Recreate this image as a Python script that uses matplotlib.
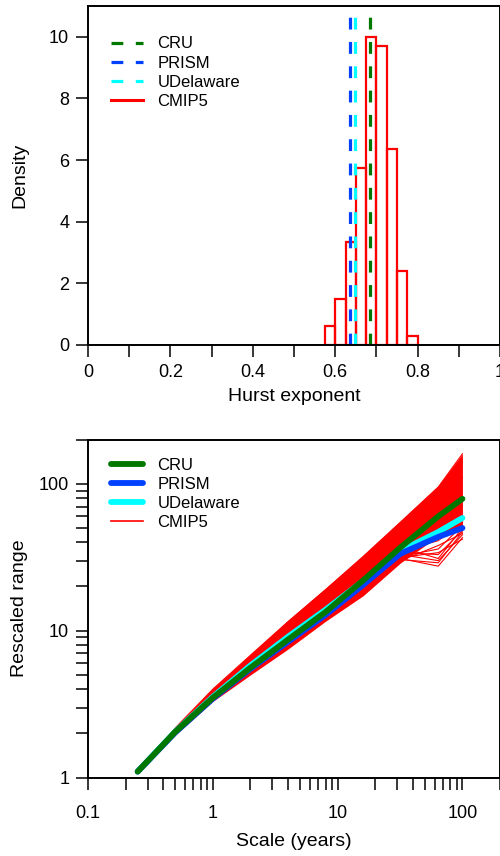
"""Hurst exponent histogram and rescaled range plot"""

import matplotlib
matplotlib.use("Agg")
import matplotlib.pyplot as plt
from matplotlib.ticker import FixedLocator, NullFormatter

plt.rcParams['font.family'] = ['Liberation Sans', 'DejaVu Sans']
plt.rcParams['lines.scale_dashes'] = False

# --- top panel data: histogram of CMIP5 Hurst exponents + observations
bin_edges = [0.575, 0.600, 0.625, 0.650, 0.675, 0.700, 0.725, 0.750, 0.775]
bin_width = 0.025
cmip5_density = [0.6, 1.5, 3.35, 5.75, 10.0, 9.7, 6.35, 2.4, 0.3]
obs_names = ['CRU', 'PRISM', 'UDelaware']
obs_hurst = [0.684, 0.636, 0.649]

# --- bottom panel data: rescaled range vs scale
scale = [0.25, 0.5, 1, 2, 4, 8, 16, 32, 64, 100]
rs_cru = [1.1, 2.05, 3.5, 5.6, 8.7, 13.4, 22.0, 37.0, 60.0, 79.0]
rs_prism = [1.1, 2.03, 3.45, 5.5, 8.4, 12.8, 20.5, 33.5, 43.5, 50.0]
rs_udel = [1.1, 2.06, 3.55, 5.8, 9.1, 13.9, 21.8, 35.0, 47.0, 58.5]

cmip5_upper = [1.13, 2.22, 4.05, 6.9, 11.8, 19.5, 32.5, 56.0, 97.0, 160.0]
cmip5_lower = [1.07, 1.95, 3.3, 5.0, 7.5, 11.6, 17.3, 29.0, 44.0, 50.0]
cmip5_runs = [
    [1.10, 2.10, 3.70, 6.0, 9.6, 15.5, 25.0, 42.0, 70.0, 110.0],
    [1.09, 2.05, 3.50, 5.5, 8.6, 13.5, 21.0, 33.0, 30.0, 45.0],
    [1.08, 2.00, 3.40, 5.2, 8.0, 12.5, 19.0, 31.0, 27.5, 43.0],
    [1.10, 2.08, 3.60, 5.7, 8.9, 14.0, 22.0, 34.0, 33.0, 48.0],
    [1.09, 2.03, 3.50, 5.4, 8.3, 13.0, 20.0, 32.0, 36.0, 52.0],
    [1.11, 2.12, 3.80, 6.3, 10.5, 17.5, 29.0, 49.0, 85.0, 140.0],
    [1.12, 2.18, 4.00, 6.8, 11.5, 19.0, 32.0, 55.0, 95.0, 160.0],
    [1.08, 2.00, 3.35, 5.1, 7.7, 12.0, 18.0, 30.0, 38.0, 46.0],
    [1.10, 2.07, 3.60, 5.8, 9.2, 14.5, 23.0, 37.0, 31.0, 50.0],
    [1.09, 2.04, 3.55, 5.6, 8.7, 13.8, 21.5, 35.0, 41.0, 55.0],
    [1.11, 2.10, 3.75, 6.1, 9.8, 16.0, 26.0, 44.0, 60.0, 80.0],
    [1.10, 2.09, 3.65, 5.9, 9.4, 15.0, 24.0, 40.0, 50.0, 65.0],
    [1.09, 2.02, 3.45, 5.3, 8.2, 12.8, 19.5, 31.5, 34.0, 42.0],
    [1.08, 2.01, 3.40, 5.25, 8.1, 12.6, 19.2, 30.5, 29.0, 47.0],
]

green = '#007800'
blue = '#0040ff'
cyan = '#00ffff'
red = '#ff0000'
obs_colors = [green, blue, cyan]

TICK_FS = 13
LABEL_FS = 14
LEG_FS = 12


def style_axes(ax, xpad):
    for sp in ax.spines.values():
        sp.set_linewidth(1.4)
    ax.tick_params(which='both', direction='out', length=8.5, width=1.1,
                   labelsize=TICK_FS)
    ax.tick_params(axis='x', which='both', pad=xpad)
    ax.tick_params(axis='y', which='both', pad=5)


def add_legend(ax, handles, labels, top):
    ax.legend(handles, labels, loc='upper left', bbox_to_anchor=(0.055, top),
              borderaxespad=0, borderpad=0, frameon=False, fontsize=LEG_FS,
              handlelength=1.95, handletextpad=0.85, labelspacing=0.25)


fig = plt.figure(figsize=(5.0, 8.56), dpi=100)

# ---------------- top panel ----------------
ax1 = fig.add_axes([0.176, 0.597, 0.824, 0.396])
ax1.plot([0, 1], [0, 0], color=red, lw=1.2)
ax1.bar(bin_edges, cmip5_density, width=bin_width, align='edge', fill=False,
        edgecolor=red, lw=1.6)
handles = []
for name, h, c in zip(obs_names, obs_hurst, obs_colors):
    ln, = ax1.plot([h, h], [0, 11], color=c, lw=2.3, ls=(0, (8.5, 9)))
    handles.append(ln)
hc, = ax1.plot([], [], color=red, lw=2.2)
handles.append(hc)
ax1.set_xlim(0, 1)
ax1.set_ylim(0, 11)
ax1.xaxis.set_major_locator(FixedLocator([0, 0.2, 0.4, 0.6, 0.8, 1.0]))
ax1.xaxis.set_minor_locator(FixedLocator([0.1, 0.3, 0.5, 0.7, 0.9]))
ax1.set_xticklabels(['0', '0.2', '0.4', '0.6', '0.8', '1'])
ax1.set_yticks([0, 2, 4, 6, 8, 10])
ax1.set_xlabel('Hurst exponent', fontsize=LABEL_FS)
ax1.set_ylabel('Density', fontsize=LABEL_FS)
ax1.xaxis.set_label_coords(0.5, -0.127)
ax1.yaxis.set_label_coords(-0.145, 0.5)
style_axes(ax1, 5)
add_legend(ax1, handles, obs_names + ['CMIP5'], 0.91)

# ---------------- bottom panel ----------------
ax2 = fig.add_axes([0.176, 0.0915, 0.824, 0.395])
ax2.fill_between(scale, cmip5_lower, cmip5_upper, color=red, lw=0)
for run in cmip5_runs:
    ax2.plot(scale, run, color=red, lw=0.8)
ax2.plot(scale, rs_udel, color=cyan, lw=4.2, solid_capstyle='round')
ax2.plot(scale, rs_prism, color=blue, lw=4.2, solid_capstyle='round')
ax2.plot(scale, rs_cru, color=green, lw=4.2, solid_capstyle='round')

ax2.set_xscale('log')
ax2.set_yscale('log')
ax2.set_xlim(0.1, 200)
ax2.set_ylim(1, 200)
ax2.xaxis.set_major_locator(FixedLocator([0.1, 1, 10, 100]))
ax2.set_xticklabels(['0.1', '1', '10', '100'])
ax2.xaxis.set_minor_locator(FixedLocator(
    [k * d for d in (0.1, 1, 10) for k in range(2, 10)] + [200]))
ax2.xaxis.set_minor_formatter(NullFormatter())
ax2.yaxis.set_major_locator(FixedLocator([1, 10, 100]))
ax2.set_yticklabels(['1', '10', '100'])
ax2.yaxis.set_minor_locator(FixedLocator(
    [k * d for d in (1, 10) for k in range(2, 10)] + [200]))
ax2.yaxis.set_minor_formatter(NullFormatter())
ax2.set_xlabel('Scale (years)', fontsize=LABEL_FS)
ax2.set_ylabel('Rescaled range', fontsize=LABEL_FS)
ax2.xaxis.set_label_coords(0.5, -0.164)
ax2.yaxis.set_label_coords(-0.145, 0.5)
style_axes(ax2, 11)

lh = [ax2.plot([], [], color=c, lw=4.2, solid_capstyle='round')[0]
      for c in obs_colors]
lh.append(ax2.plot([], [], color=red, lw=1.2)[0])
add_legend(ax2, lh, obs_names + ['CMIP5'], 0.946)

fig.savefig('out.png', dpi=100)
